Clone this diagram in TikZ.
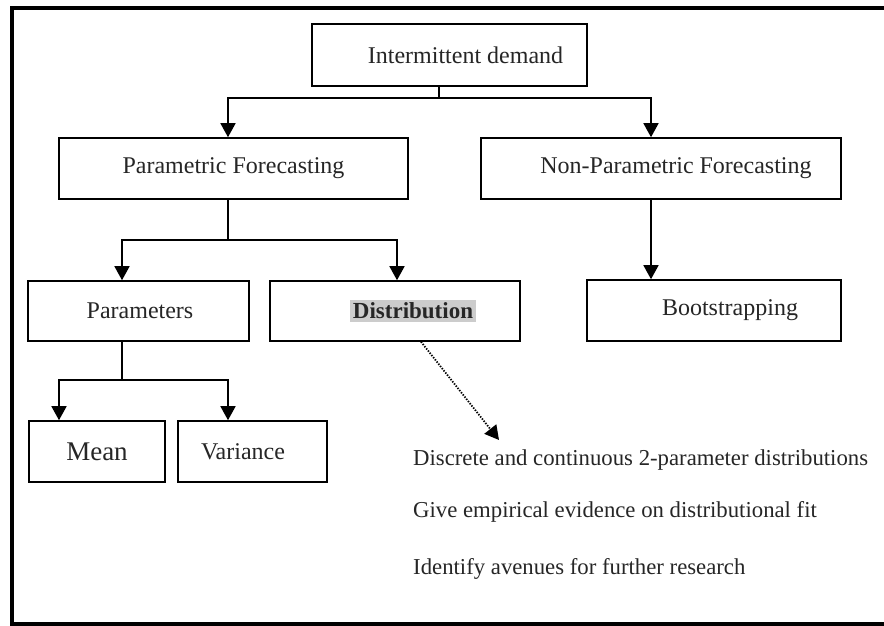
\documentclass[tikz,border=0pt]{standalone}
\usepackage{fontspec}
\setmainfont{Liberation Serif}
\usetikzlibrary{arrows.meta}
\begin{document}
\begin{tikzpicture}[x=1pt,y=-1pt,
  box/.style={draw, line width=1.6pt, rectangle, inner sep=0pt, font=\fontsize{24}{28}\selectfont, text=black!85},
  conn/.style={line width=1.6pt},
  arr/.style={conn, -{Triangle[width=15pt,length=14pt]}},
  dotarr/.style={line width=1.8pt, dash pattern=on 1.4pt off 1.4pt, -{Triangle[width=15pt,length=14pt]}},
  plain/.style={inner sep=0pt, font=\fontsize{22.75}{26}\selectfont, text=black!85}]
\useasboundingbox (0,0) rectangle (884,626);
\fill[white] (0,0) rectangle (884,626);
\draw[line width=3.5pt] (884,8) -- (12,8) -- (12,624) -- (884,624);

\node[box, minimum width=275pt, minimum height=62pt] (top) at (449.5,55) {\hspace*{32pt}Intermittent demand};
\node[box, minimum width=349pt, minimum height=61pt] (par) at (233.5,168.5) {Parametric Forecasting};
\node[box, minimum width=360pt, minimum height=61pt] (npar) at (661,168.5) {\hspace*{30pt}Non-Parametric Forecasting};
\node[box, minimum width=221pt, minimum height=60pt] (prm) at (138.5,311) {\hspace*{3pt}Parameters};
\node[box, minimum width=250pt, minimum height=60pt] (dist) at (395,311) {\hspace*{36pt}{\fontsize{23}{27}\selectfont\setlength{\fboxsep}{3pt}\colorbox{black!20}{\textbf{Distribution}}}};
\node[box, minimum width=254pt, minimum height=61pt] (boot) at (714,310.5) {\hspace*{32pt}Bootstrapping};
\node[box, minimum width=136pt, minimum height=61pt] (mean) at (97,451.5) {\fontsize{27}{30}\selectfont Mean};
\node[box, minimum width=149pt, minimum height=61pt] (var) at (252.5,451.5) {Variance\hspace*{19pt}};

\node[plain, anchor=base west] (d1) at (413,465) {Discrete and continuous 2-parameter distributions};
\node[plain, anchor=base west] (d2) at (413,517) {Give empirical evidence on distributional fit};
\node[plain, anchor=base west] (d3) at (413,574) {Identify avenues for further research};

% connector x-positions and junctions
\coordinate (x1) at (439,0);
\coordinate (j1) at (439,98);
\coordinate (xa) at (228,0);
\coordinate (xb) at (651,0);
\coordinate (j2) at (228,240);
\coordinate (xc) at (122,0);
\coordinate (xd) at (397,0);
\coordinate (j3) at (122,380);
\coordinate (xe) at (59,0);
\coordinate (dstart) at (421,0);
\coordinate (dend) at (499,440);

\draw[conn] (top.south -| x1) -- (j1);
\draw[arr] (j1) -| (par.north -| xa);
\draw[arr] (j1) -| (npar.north -| xb);
\draw[arr] (npar.south -| xb) -- (boot.north -| xb);
\draw[conn] (par.south -| xa) -- (j2);
\draw[arr] (j2) -| (prm.north -| xc);
\draw[arr] (j2) -| (dist.north -| xd);
\draw[conn] (prm.south -| xc) -- (j3);
\draw[arr] (j3) -| (mean.north -| xe);
\draw[arr] (j3) -| (var.north -| xa);
\draw[dotarr] (dist.south -| dstart) -- (dend);
\end{tikzpicture}
\end{document}
